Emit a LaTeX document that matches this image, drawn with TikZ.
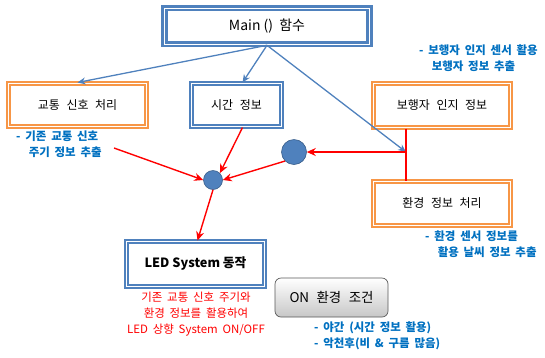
\documentclass[tikz,border=0pt]{standalone}
\usepackage{fontspec}
\setmainfont{Noto Sans CJK KR}
\usetikzlibrary{arrows.meta,shadings}
\definecolor{bl}{HTML}{4F81BD}
\definecolor{dbl}{HTML}{385D8A}
\definecolor{og}{HTML}{F79646}
\definecolor{tb}{HTML}{0070C0}
\definecolor{rd}{HTML}{FF0000}
\newcommand{\widesp}{\spaceskip=0.42em plus 0.05em\relax}
\newcommand{\boxsp}{\spaceskip=0.55em plus 0.05em\relax}
\tikzset{
  bluebox/.style={draw=bl, line width=2pt, double=white, double distance=0.9pt, fill=white, inner sep=0pt, font=\fontsize{12}{14}\selectfont\boxsp},
  orangebox/.style={draw=og, line width=2pt, double=white, double distance=0.9pt, fill=white, inner sep=0pt, font=\fontsize{12}{14}\selectfont\boxsp},
  note/.style={text=tb, font=\fontsize{11.5}{16}\selectfont\bfseries\widesp, align=left, inner sep=0pt, anchor=north west},
  barrow/.style={draw=bl, line width=1.3pt, -{Stealth[length=8pt,width=7pt]}},
  rarrow/.style={draw=rd, line width=1.4pt, -{Stealth[length=9pt,width=8pt]}},
  dot/.style={circle, fill=bl, draw=dbl, line width=0.6pt, inner sep=0pt},
}
\begin{document}
\begin{tikzpicture}[x=1bp,y=-1bp]
\useasboundingbox (0,0) rectangle (545,357);
\node[bluebox, line width=2.6pt, minimum width=205bp, minimum height=36bp, font=\fontsize{14}{16}\selectfont] (main) at (267,26) {Main ()\hspace{0.45em}함수};
\node[orangebox, minimum width=138bp, minimum height=43bp] (gyo) at (77.5,105) {교통 신호 처리};
\node[bluebox, minimum width=90bp, minimum height=43bp] (si) at (236.5,105) {시간 정보};
\node[orangebox, minimum width=137bp, minimum height=44bp] (bo) at (442,105.5) {보행자 인지 정보};
\node[orangebox, minimum width=137bp, minimum height=44bp] (hw) at (442,203.5) {환경 정보 처리};
\node[bluebox, minimum width=138bp, minimum height=45bp, font=\fontsize{12.8}{14}\selectfont\bfseries] (led) at (195.5,264) {LED System 동작};
\node[draw=black!65, line width=0.7pt, rounded corners=6bp, top color=white, bottom color=black!22, minimum width=113bp, minimum height=39bp, inner sep=0pt, font=\fontsize{13.5}{15}\selectfont\boxsp] (on) at (331.5,297.5) {ON 환경 조건};

\node[dot, minimum size=19bp] (sc) at (213,180) {};
\node[dot, minimum size=25bp] (bc) at (294,152) {};
\coordinate (j) at (406,152);
\coordinate (r1) at (114,148);

\node[note] (n1) at (16,131) {- 기존 교통 신호\\\hspace{1.1em}주기 정보 추출};
\node[note] (n2) at (419,45) {- 보행자 인지 센서 활용\\\hspace{1.1em}보행자 정보 추출};
\node[note] (n3) at (425,231) {- 환경 센서 정보를\\\hspace{1.1em}활용 날씨 정보 추출};
\node[note] (n4) at (314,322) {- 야간 (시간 정보 활용)\\- 악천후(비 \& 구름 많음)};
\node[text=rd, font=\fontsize{11.5}{16}\selectfont\widesp, align=center, inner sep=0pt, anchor=north] (n5) at (196,292) {기존 교통 신호 주기와\\환경 정보를 활용하여\\LED 상향 System ON/OFF};

\draw[barrow] (main.south) -- (gyo.north);
\draw[barrow] (main.south) -- ([xshift=6bp]si.north);
\draw[barrow] (main.south) -- (j);

\draw[draw=rd, line width=1.4pt] (bo.south -| j) -- (hw.north -| j);
\draw[rarrow] (j) -- (bc.east);
\draw[rarrow] (r1) -- (sc.west);
\draw[rarrow] ([xshift=6bp]si.south) -- (sc.north east);
\draw[rarrow] (bc.south west) -- (sc.east);
\draw[rarrow] (sc.south) -- ([xshift=2bp]led.north);
\end{tikzpicture}
\end{document}
